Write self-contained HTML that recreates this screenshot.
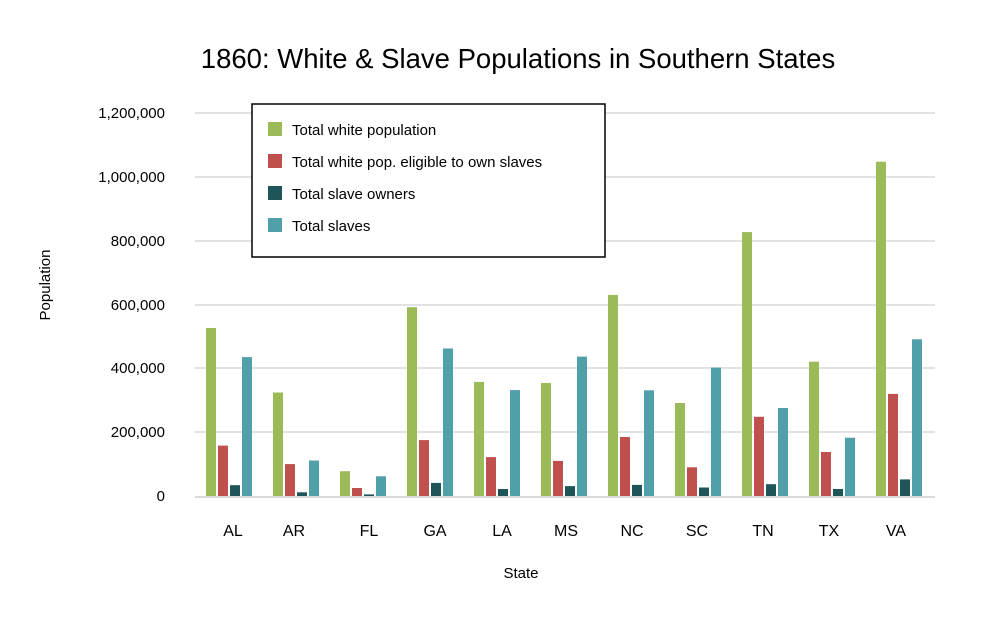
<!DOCTYPE html>
<html><head><meta charset="utf-8"><style>body{margin:0;background:#fff}</style></head><body>
<svg width="1000" height="612" xmlns="http://www.w3.org/2000/svg" font-family="Liberation Sans, sans-serif">
<rect width="1000" height="612" fill="#fff"/>
<text x="518" y="68" font-size="27.5" text-anchor="middle" fill="#000">1860: White &amp; Slave Populations in Southern States</text>
<g stroke="#d9d9d9" stroke-width="1.5">
<line x1="195" x2="935" y1="113" y2="113"/><line x1="195" x2="935" y1="177" y2="177"/>
<line x1="195" x2="935" y1="241" y2="241"/><line x1="195" x2="935" y1="305" y2="305"/>
<line x1="195" x2="935" y1="368" y2="368"/><line x1="195" x2="935" y1="432" y2="432"/>
<line x1="195" x2="935" y1="497" y2="497" stroke-width="2"/>
</g>
<g font-size="15" text-anchor="end" fill="#000">
<text x="165" y="118">1,200,000</text><text x="165" y="182">1,000,000</text>
<text x="165" y="246">800,000</text><text x="165" y="310">600,000</text>
<text x="165" y="373">400,000</text><text x="165" y="437">200,000</text>
<text x="165" y="501">0</text>
</g>
<text transform="translate(50,285) rotate(-90)" font-size="15" text-anchor="middle">Population</text>
<text x="521" y="578" font-size="15" text-anchor="middle">State</text>
<g fill="#9bbb59">
<rect x="206" y="328" width="10" height="168"/>
<rect x="273" y="392.5" width="10" height="103.5"/>
<rect x="340" y="471.2" width="10" height="24.8"/>
<rect x="407" y="307.2" width="10" height="188.8"/>
<rect x="474" y="381.9" width="10" height="114.1"/>
<rect x="541" y="383" width="10" height="113"/>
<rect x="608" y="294.9" width="10" height="201.1"/>
<rect x="675" y="403" width="10" height="93"/>
<rect x="742" y="232.1" width="10" height="263.9"/>
<rect x="809" y="361.7" width="10" height="134.3"/>
<rect x="876" y="161.7" width="10" height="334.3"/>
</g>
<g fill="#c0504d">
<rect x="218" y="445.6" width="10" height="50.4"/>
<rect x="285" y="464.1" width="10" height="31.9"/>
<rect x="352" y="488" width="10" height="8"/>
<rect x="419" y="440.1" width="10" height="55.9"/>
<rect x="486" y="457.1" width="10" height="38.9"/>
<rect x="553" y="460.9" width="10" height="35.1"/>
<rect x="620" y="437" width="10" height="59"/>
<rect x="687" y="467.3" width="10" height="28.7"/>
<rect x="754" y="416.8" width="10" height="79.2"/>
<rect x="821" y="452" width="10" height="44"/>
<rect x="888" y="393.9" width="10" height="102.1"/>
</g>
<g fill="#1d5559">
<rect x="230" y="485.2" width="10" height="10.8"/>
<rect x="297" y="492.3" width="10" height="3.7"/>
<rect x="364" y="494.4" width="10" height="1.6"/>
<rect x="431" y="482.9" width="10" height="13.1"/>
<rect x="498" y="489" width="10" height="7"/>
<rect x="565" y="486.1" width="10" height="9.9"/>
<rect x="632" y="484.9" width="10" height="11.1"/>
<rect x="699" y="487.5" width="10" height="8.5"/>
<rect x="766" y="484.2" width="10" height="11.8"/>
<rect x="833" y="489" width="10" height="7"/>
<rect x="900" y="479.4" width="10" height="16.6"/>
</g>
<g fill="#4fa0a8">
<rect x="242" y="357.1" width="10" height="138.9"/>
<rect x="309" y="460.5" width="10" height="35.5"/>
<rect x="376" y="476.3" width="10" height="19.7"/>
<rect x="443" y="348.5" width="10" height="147.5"/>
<rect x="510" y="390.1" width="10" height="105.9"/>
<rect x="577" y="356.6" width="10" height="139.4"/>
<rect x="644" y="390.3" width="10" height="105.7"/>
<rect x="711" y="367.6" width="10" height="128.4"/>
<rect x="778" y="408" width="10" height="88"/>
<rect x="845" y="437.7" width="10" height="58.3"/>
<rect x="912" y="339.3" width="10" height="156.7"/>
</g>
<g font-size="16" text-anchor="middle">
<text x="233" y="536">AL</text><text x="294" y="536">AR</text><text x="369" y="536">FL</text>
<text x="435" y="536">GA</text><text x="502" y="536">LA</text><text x="566" y="536">MS</text>
<text x="632" y="536">NC</text><text x="697" y="536">SC</text><text x="763" y="536">TN</text>
<text x="829" y="536">TX</text><text x="896" y="536">VA</text>
</g>
<rect x="252" y="104" width="353" height="153" fill="#fff" stroke="#000" stroke-width="1.5"/>
<g font-size="15">
<rect x="268" y="122" width="14" height="14" fill="#9bbb59"/><text x="292" y="135">Total white population</text>
<rect x="268" y="154" width="14" height="14" fill="#c0504d"/><text x="292" y="167">Total white pop. eligible to own slaves</text>
<rect x="268" y="186" width="14" height="14" fill="#1d5559"/><text x="292" y="199">Total slave owners</text>
<rect x="268" y="218" width="14" height="14" fill="#4fa0a8"/><text x="292" y="231">Total slaves</text>
</g>
</svg>
</body></html>
